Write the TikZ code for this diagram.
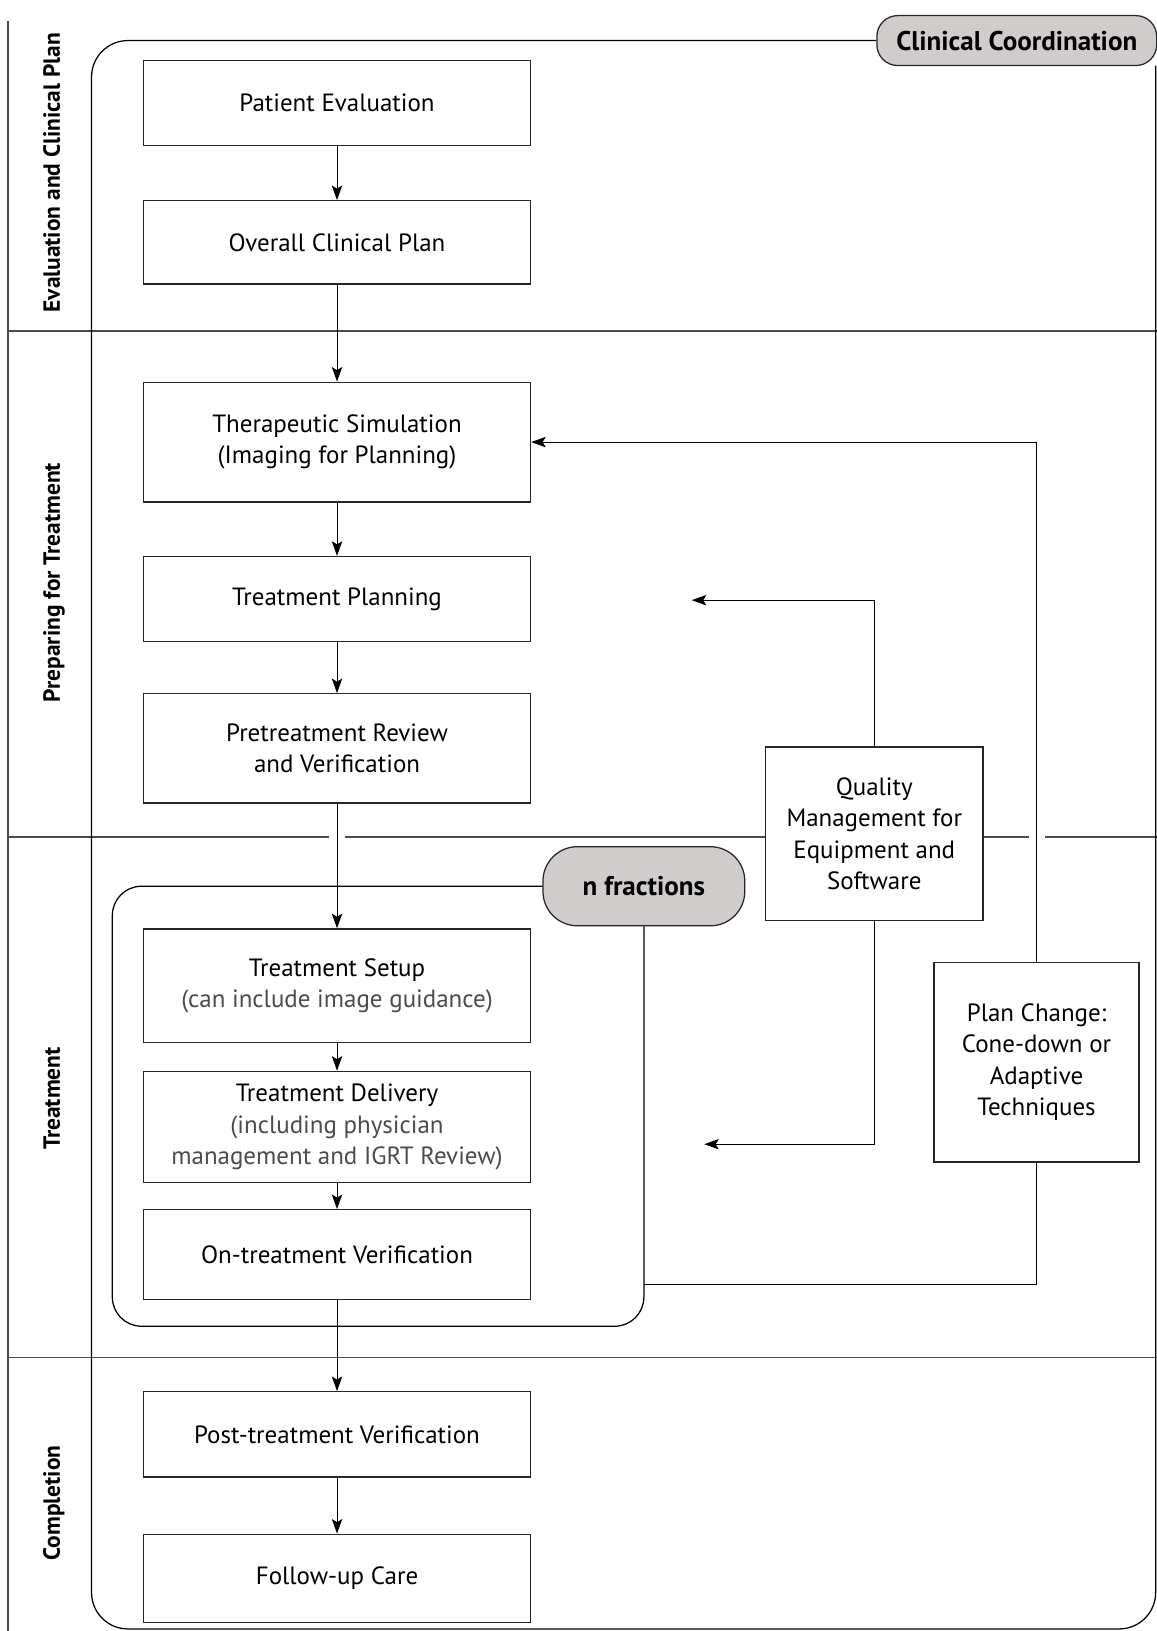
\documentclass[tikz,border=0pt]{standalone}
\usepackage{fontspec}
\setmainfont{PT Sans}
\usetikzlibrary{arrows.meta,positioning}
\definecolor{pillgray}{HTML}{D0CCCB}
\definecolor{lanegray}{HTML}{4A4A4A}

\begin{document}
\begin{tikzpicture}[
  x=1pt,y=-1pt,
  font=\fontsize{24}{30}\selectfont,
  box/.style={draw=black!85,line width=1.3pt,fill=white,minimum width=372pt,align=center,inner sep=0pt},
  pill/.style={draw=black!85,line width=1.2pt,fill=pillgray,font=\fontsize{26}{30}\selectfont\bfseries,align=center,inner sep=0pt},
  lane/.style={rotate=90,anchor=base,font=\fontsize{22.5}{24}\selectfont\bfseries},
  laneline/.style={lanegray,line width=1.7pt},
  frame/.style={line width=1.2pt},
  arrow/.style={-{Stealth[length=14pt,width=10pt,inset=3pt]},line width=1pt},
  link/.style={line width=1pt},
  note/.style={black!70},
]
  \useasboundingbox (0,0) rectangle (1112,1568);

  % swim lanes
  \draw[laneline] (8,20) -- (8,1568);
  \draw[laneline] (8,318) -- (1112,318);
  \draw[laneline] (8,805) -- (316,805);
  \draw[laneline] (332,805) -- (989,805);
  \draw[laneline] (1005,805) -- (1112,805);
  \draw[laneline] (8,1305) -- (1112,1305);

  \node[lane] (lane1) at (57.5,166) {Evaluation and Clinical Plan};
  \node[lane] (lane2) at (57.5,560) {Preparing for Treatment};
  \node[lane] (lane3) at (57.5,1056) {Treatment};
  \node[lane] (lane4) at (57.5,1445) {Completion};

  % clinical coordination frame
  \node[pill,rounded corners=20pt,minimum width=269pt,minimum height=48pt] (coord) at (977.5,39) {Clinical Coordination};
  \draw[frame,rounded corners=35pt] (coord.west) -- (88,39) -- (88,1566) -- (1111,1566) -- (1111,63);

  % main flow
  \node[box,minimum height=82pt] (eval) at (324,99) {Patient Evaluation};
  \node[box,minimum height=80pt] (plan) at (324,233) {Overall Clinical Plan};
  \node[box,minimum height=115pt] (sim) at (324,425) {Therapeutic Simulation\\(Imaging for Planning)};
  \node[box,minimum height=82pt] (tplan) at (324,576) {Treatment Planning};
  \node[box,minimum height=105pt] (review) at (324,719.5) {Pretreatment Review\\and Verification};
  \node[box,minimum height=109pt] (setup) at (324,947.5) {Treatment Setup\\{\color{black!70}(can include image guidance)}};
  \node[box,minimum height=107pt] (deliv) at (324,1083.5) {Treatment Delivery\\{\color{black!70}(including physician}\\{\color{black!70}management and IGRT Review)}};
  \node[box,minimum height=86pt] (ontv) at (324,1206) {On-treatment Verification};
  \node[box,minimum height=82pt] (post) at (324,1379) {Post-treatment Verification};
  \node[box,minimum height=85pt] (follow) at (324,1517.5) {Follow-up Care};

  % n fractions loop
  \node[pill,rounded corners=33pt,minimum width=194pt,minimum height=76pt] (nfrac) at (619,852) {n fractions};
  \draw[frame,rounded corners=28pt] (nfrac.west) -- (108,852) -- (108,1275) -- (619,1275) -- (nfrac.south);

  % side boxes
  \node[box,minimum width=209pt,minimum height=167pt] (qm) at (840.5,801.5) {Quality\\Management for\\Equipment and\\Software};
  \node[box,minimum width=197pt,minimum height=192pt] (change) at (996.5,1021) {Plan Change:\\Cone-down or\\Adaptive\\Techniques};

  \foreach \a/\b in {eval/plan,plan/sim,sim/tplan,tplan/review,review/setup,setup/deliv,deliv/ontv,ontv/post,post/follow}
    \draw[arrow] (\a) -- (\b);

  \coordinate (qmup) at (665,577);
  \coordinate (qmdown) at (677,1100);
  \draw[arrow] (qm.north) |- (qmup);
  \draw[arrow] (qm.south) |- (qmdown);

  \coordinate (loop) at (619,1235);
  \draw[link] (loop) -| (change.south);
  \draw[arrow] (change.north) |- (sim.east);
\end{tikzpicture}
\end{document}
